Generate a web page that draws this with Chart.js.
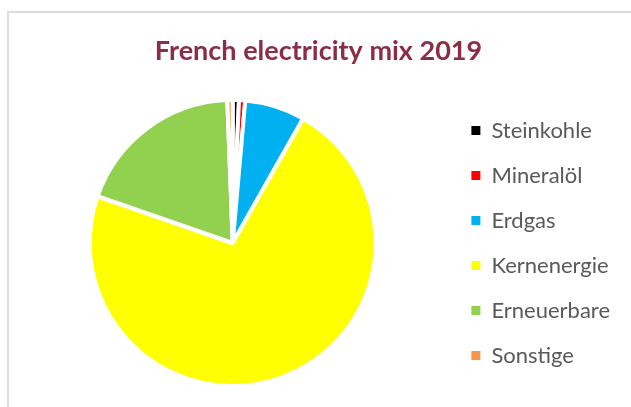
<!DOCTYPE html>
<html>
<head>
<meta charset="utf-8">
<script src="https://cdn.jsdelivr.net/npm/chart.js@4"></script>
<style>
  html, body { margin: 0; padding: 0; background: #fff; overflow: hidden; }
  #frame { position: absolute; left: 7px; top: 11px; width: 700px; height: 500px; border: 2px solid #dcdcdc; }
  #chart { position: absolute; left: 0; top: 0; }
</style>
</head>
<body>
<div id="frame"></div>
<canvas id="chart" width="631" height="407"></canvas>
<script>
// Shares of generation, in percent
const categories = ['Steinkohle', 'Mineralöl', 'Erdgas', 'Kernenergie', 'Erneuerbare', 'Sonstige']
const shares = [0.7, 0.7, 6.8, 72.1, 19.1, 0.6]
const sliceColors = ['#000000', '#ff0000', '#00b0f0', '#ffff00', '#92d050', '#f79646']

const fontFamily = 'Lato, "Open Sans", sans-serif'

const ctx = document.getElementById('chart').getContext('2d')
const chart = new Chart(ctx, {
  type: 'pie',
  data: {
    labels: categories,
    datasets: [{
      data: shares,
      backgroundColor: sliceColors,
      borderColor: '#ffffff',
      borderWidth: 4,
      radius: 143
    }]
  },
  options: {
    responsive: false,
    animation: false,
    layout: {
      padding: { top: 0, left: 17, right: 11, bottom: 17 }
    },
    plugins: {
      title: {
        display: true,
        text: 'French electricity mix 2019',
        color: '#8b2d46',
        font: { family: fontFamily, size: 27, weight: 'bold' },
        padding: { top: 35, bottom: 28.6 }
      },
      legend: {
        position: 'right',
        fullSize: false,
        labels: {
          boxWidth: 9,
          boxHeight: 9,
          padding: 23,
          color: '#595959',
          font: { family: fontFamily, size: 22 },
          generateLabels: (chart) => chart.data.labels.map((label, i) => ({
            text: label,
            fillStyle: sliceColors[i],
            strokeStyle: sliceColors[i],
            lineWidth: 0,
            fontColor: '#595959',
            hidden: false,
            index: i
          }))
        }
      },
      tooltip: { enabled: false }
    }
  }
})
</script>
</body>
</html>
